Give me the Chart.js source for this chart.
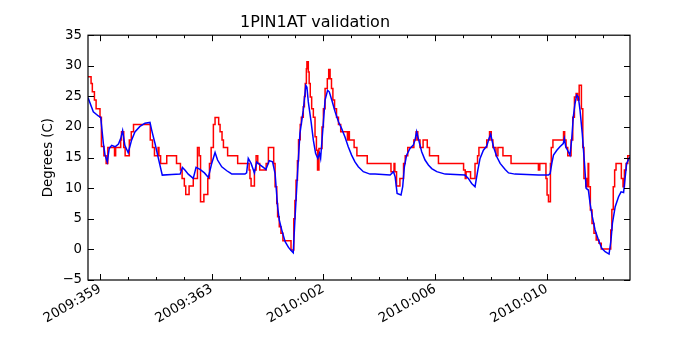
<!DOCTYPE html>
<html lang="en">
<head>
<meta charset="UTF-8"/>
<title>1PIN1AT validation</title>
<script src="https://cdn.jsdelivr.net/npm/chart.js@4.4.1/dist/chart.umd.min.js"></script>
<style>
  html, body { margin: 0; padding: 0; background: #fff; }
</style>
</head>
<body>
<canvas id="chart" width="700" height="350"></canvas>
<script>
  // x values are days counted from 2009:359
  const xTickDays = [0, 4, 8, 12, 16];
  const xTickLabels = ['2009:359', '2009:363', '2010:002', '2010:006', '2010:010'];
  const xMin = -0.43, xMax = 18.98;
  const yMin = -5, yMax = 35;

  // observed (red), step changes: level starts at the given day
  const redDays = [
    -0.43, -0.32, -0.275, -0.20, -0.14, 0.0, 0.05, 0.14, 0.22, 0.28,
    0.52, 0.56, 0.74, 0.77, 0.85, 0.90, 1.05, 1.12, 1.20, 1.80,
    1.88, 1.95, 2.08, 2.11, 2.17, 2.39, 2.74, 2.88, 2.94, 3.02,
    3.07, 3.19, 3.34, 3.49, 3.55, 3.60, 3.72, 3.86, 3.92, 3.98,
    4.06, 4.12, 4.25, 4.30, 4.37, 4.42, 4.57, 4.93, 5.34, 5.37,
    5.41, 5.53, 5.59, 5.65, 5.72, 5.95, 6.03, 6.22, 6.27, 6.33,
    6.36, 6.42, 6.48, 6.55, 6.84, 6.94, 6.98, 7.02, 7.07, 7.11,
    7.17, 7.21, 7.28, 7.32, 7.35, 7.39, 7.41, 7.46, 7.49, 7.53,
    7.58, 7.64, 7.70, 7.75, 7.79, 7.84, 7.95, 8.00, 8.06, 8.14,
    8.19, 8.24, 8.29, 8.34, 8.40, 8.47, 8.54, 8.62, 8.86, 8.90,
    8.93, 9.10, 9.20, 9.57, 10.42, 10.53, 10.56, 10.62, 10.74, 10.87,
    10.93, 11.02, 11.24, 11.32, 11.38, 11.46, 11.57, 11.72, 11.80, 12.12,
    13.02, 13.08, 13.11, 13.27, 13.43, 13.52, 13.57, 13.85, 13.95, 14.01,
    14.07, 14.18, 14.25, 14.43, 14.72, 15.70, 15.75, 15.97, 16.01, 16.06,
    16.13, 16.16, 16.22, 16.60, 16.64, 16.69, 16.75, 16.87, 16.93, 16.99,
    17.05, 17.10, 17.16, 17.24, 17.29, 17.33, 17.40, 17.45, 17.48, 17.50,
    17.56, 17.62, 17.69, 17.77, 17.87, 17.95, 18.29, 18.33, 18.38, 18.43,
    18.48, 18.67, 18.73, 18.78, 18.84, 18.90, 18.98
  ];
  const redTemps = [
    28.2, 27.1, 25.75, 24.4, 23.0, 21.6, 16.8, 15.3, 14.05, 16.66,
    15.3, 16.66, 17.86, 19.22, 16.66, 15.3, 17.86, 19.22, 20.42, 17.86,
    16.66, 15.3, 16.66, 15.3, 14.05, 15.3, 14.05, 12.96, 11.6, 10.35,
    8.99, 10.35, 11.6, 16.66, 15.3, 7.79, 8.99, 11.6, 14.05, 16.66,
    20.42, 21.56, 20.42, 19.22, 17.86, 16.66, 15.3, 14.05, 12.96, 11.6,
    10.35, 12.96, 15.3, 14.05, 12.96, 14.05, 16.66, 14.05, 10.24, 7.5,
    5.34, 3.71, 2.62, 1.42, -0.1, 5.0, 8.0, 11.3, 14.5, 17.9,
    20.4, 21.6, 23.3, 25.0, 27.1, 29.5, 30.65, 29.0, 27.1, 24.9,
    23.0, 21.6, 18.4, 16.2, 12.96, 16.5, 20.0, 23.0, 26.3, 27.9,
    29.4, 27.9, 26.3, 24.4, 23.0, 21.6, 20.4, 19.22, 17.86, 19.22,
    17.86, 16.66, 15.3, 14.05, 12.69, 14.05, 12.69, 10.35, 11.6, 14.05,
    15.3, 16.66, 17.86, 19.22, 17.86, 16.66, 17.86, 16.66, 15.3, 14.05,
    12.96, 11.6, 12.69, 11.6, 14.05, 15.3, 16.66, 17.86, 19.22, 17.86,
    16.66, 15.3, 16.66, 15.3, 14.05, 12.96, 14.05, 11.6, 8.88, 7.79,
    14.05, 16.66, 17.86, 19.22, 17.86, 16.66, 15.3, 17.86, 21.6, 24.9,
    25.48, 24.4, 26.84, 23.0, 16.66, 11.6, 10.24, 11.6, 14.05, 10.24,
    6.43, 4.25, 2.62, 1.53, 0.99, 0.06, 3.17, 6.5, 10.24, 12.96,
    14.05, 11.6, 10.24, 12.96, 14.05, 15.3, 15.3
  ];

  // model (blue)
  const blueDays = [
    -0.43, -0.24, -0.06, 0.025, 0.12, 0.18, 0.26, 0.33, 0.42, 0.54,
    0.66, 0.74, 0.81, 0.89, 1.01, 1.13, 1.25, 1.43, 1.61, 1.79,
    1.85, 1.97, 2.09, 2.23, 2.57, 2.87, 2.95, 3.04, 3.16, 3.34,
    3.44, 3.58, 3.74, 3.88, 4.00, 4.12, 4.21, 4.36, 4.54, 4.66,
    4.72, 5.19, 5.25, 5.31, 5.41, 5.53, 5.61, 5.73, 5.85, 5.94,
    6.06, 6.18, 6.27, 6.36, 6.42, 6.51, 6.63, 6.75, 6.86, 6.92,
    6.98, 7.08, 7.16, 7.28, 7.37, 7.41, 7.46, 7.56, 7.64, 7.72,
    7.80, 7.86, 7.90, 7.96, 8.06, 8.15, 8.21, 8.30, 8.42, 8.54,
    8.65, 8.77, 8.89, 9.01, 9.13, 9.25, 9.43, 9.67, 9.85, 10.39,
    10.51, 10.57, 10.64, 10.78, 10.84, 10.90, 10.98, 11.10, 11.22, 11.28,
    11.34, 11.40, 11.52, 11.64, 11.76, 11.88, 12.06, 12.36, 13.07, 13.19,
    13.31, 13.43, 13.53, 13.61, 13.73, 13.85, 13.93, 13.99, 14.09, 14.21,
    14.33, 14.51, 14.63, 14.86, 15.70, 16.06, 16.12, 16.18, 16.24, 16.36,
    16.47, 16.59, 16.63, 16.68, 16.77, 16.83, 16.89, 16.95, 17.01, 17.07,
    17.13, 17.19, 17.27, 17.35, 17.41, 17.49, 17.55, 17.63, 17.73, 17.85,
    17.97, 18.09, 18.23, 18.30, 18.35, 18.45, 18.57, 18.66, 18.75, 18.81,
    18.86, 18.95, 18.98
  ];
  const blueTemps = [
    24.8, 22.5, 21.8, 21.56, 17.3, 15.4, 14.3, 16.5, 17.0, 16.77,
    17.2, 18.1, 19.4, 17.0, 15.8, 17.85, 19.2, 20.1, 20.6, 20.74,
    19.5, 17.3, 14.86, 12.14, 12.25, 12.3, 13.4, 12.96, 12.3, 11.6,
    13.4, 13.07, 12.5, 11.76, 14.05, 15.84, 14.6, 13.5, 12.85, 12.5,
    12.3, 12.3, 12.5, 14.86, 14.05, 12.5, 14.3, 13.8, 13.4, 13.07,
    14.5, 14.3, 12.4, 7.0, 4.8, 3.15, 1.26, 0.33, -0.27, -0.54,
    4.8, 12.96, 18.95, 22.75, 26.8, 26.5, 24.1, 20.85, 17.85, 15.7,
    14.86, 15.7, 14.86, 18.4, 24.4, 26.0, 25.75, 24.4, 22.5, 20.85,
    19.77, 18.4, 16.77, 15.4, 14.3, 13.5, 12.7, 12.3, 12.3, 12.14,
    12.69, 11.86, 9.15, 8.88, 10.24, 13.5, 15.4, 16.5, 17.04, 17.85,
    19.22, 18.1, 15.95, 14.6, 13.8, 13.2, 12.7, 12.3, 12.14, 11.6,
    10.78, 10.24, 12.96, 14.86, 16.2, 16.88, 18.13, 18.8, 16.77, 15.14,
    14.05, 13.07, 12.5, 12.3, 12.14, 12.14, 12.4, 14.05, 15.4, 16.2,
    16.77, 17.3, 18.13, 16.77, 15.95, 15.4, 17.85, 21.67, 23.8, 25.2,
    24.9, 22.75, 18.95, 14.05, 9.97, 9.7, 7.5, 5.34, 3.17, 1.53,
    0.17, -0.37, -0.76, 1.53, 4.25, 6.97, 8.6, 9.4, 9.3, 11.9,
    14.05, 14.9, 15.1
  ];

  const font = 'DejaVu Sans';

  // matplotlib style frame with inward ticks on all four sides
  const frameTicks = {
    id: 'frameTicks',
    afterDatasetsDraw(chart) {
      const { ctx, chartArea: a, scales: { x, y } } = chart;
      ctx.save();
      ctx.strokeStyle = '#000';
      ctx.lineWidth = 1;
      ctx.beginPath();
      for (let d = Math.ceil(xMin); d <= Math.floor(xMax); d++) {
        const px = Math.round(x.getPixelForValue(d)) + 0.5;
        const len = xTickDays.includes(d) ? 6 : 3;
        ctx.moveTo(px, a.bottom); ctx.lineTo(px, a.bottom - len);
        ctx.moveTo(px, a.top); ctx.lineTo(px, a.top + len);
      }
      for (let v = yMin; v <= yMax; v += 5) {
        const py = Math.round(y.getPixelForValue(v)) + 0.5;
        ctx.moveTo(a.left, py); ctx.lineTo(a.left + 6, py);
        ctx.moveTo(a.right, py); ctx.lineTo(a.right - 6, py);
      }
      ctx.stroke();
      ctx.lineWidth = 1.2;
      ctx.strokeRect(a.left, a.top, a.right - a.left, a.bottom - a.top);
      ctx.restore();
    }
  };

  new Chart(document.getElementById('chart'), {
    type: 'line',
    data: {
      datasets: [
        {
          label: 'observed',
          data: redDays.map((d, i) => ({ x: d, y: redTemps[i] })),
          borderColor: '#ff0000',
          borderWidth: 1.5,
          stepped: 'before',
          pointRadius: 0,
          order: 2
        },
        {
          label: 'model',
          data: blueDays.map((d, i) => ({ x: d, y: blueTemps[i] })),
          borderColor: '#0000ff',
          borderWidth: 1.5,
          tension: 0,
          pointRadius: 0,
          order: 1
        }
      ]
    },
    options: {
      responsive: false,
      animation: false,
      devicePixelRatio: 1,
      layout: { padding: { left: 0, right: 70, top: 0, bottom: 0 } },
      plugins: {
        legend: { display: false },
        tooltip: { enabled: false },
        title: {
          display: true,
          text: '1PIN1AT validation',
          color: '#000',
          font: { family: font, size: 16, weight: 'normal' },
          padding: { top: 13, bottom: 3 }
        }
      },
      scales: {
        x: {
          type: 'linear',
          min: xMin,
          max: xMax,
          grid: { display: false, drawTicks: false },
          border: { display: false },
          afterBuildTicks: s => { s.ticks = xTickDays.map(v => ({ value: v })); },
          afterFit: s => { s.height = 70; },
          ticks: {
            autoSkip: false,
            minRotation: 30,
            maxRotation: 30,
            padding: 1,
            color: '#000',
            font: { family: font, size: 13.3 },
            callback: (v, i) => xTickLabels[i]
          }
        },
        y: {
          min: yMin,
          max: yMax,
          grid: { display: false, drawTicks: false },
          border: { display: false },
          afterFit: s => { s.width = 88; },
          ticks: {
            stepSize: 5,
            padding: 6,
            color: '#000',
            font: { family: font, size: 13.3 },
            callback: v => (v < 0 ? '\u2212' + Math.abs(v) : String(v))
          },
          title: {
            display: true,
            text: 'Degrees (C)',
            color: '#000',
            font: { family: font, size: 13.3 },
            padding: { top: 41, bottom: 0 }
          }
        }
      }
    },
    plugins: [frameTicks]
  });
</script>
</body>
</html>
